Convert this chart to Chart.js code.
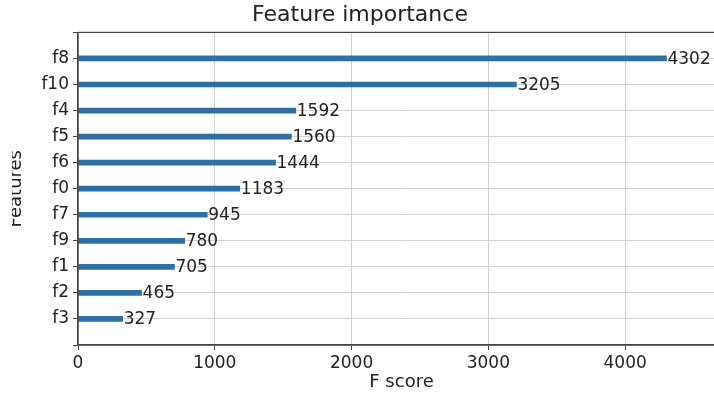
<!DOCTYPE html>
<html>
<head>
<meta charset="utf-8">
<script src="https://cdn.jsdelivr.net/npm/chart.js@4"></script>
<style>
  html, body { margin: 0; padding: 0; background: #fff; }
  #wrap { position: relative; width: 714px; height: 393px; overflow: hidden; background: #fff; }
  /* the source picture is cropped a little on the left */
  #clip { position: absolute; left: 12px; top: 0; width: 702px; height: 393px; overflow: hidden; }
  #importanceChart { position: absolute; left: -17px; top: 0; }
</style>
</head>
<body>
<div id="wrap">
  <div id="clip">
    <canvas id="importanceChart" width="730" height="393"></canvas>
  </div>
</div>
<script>
// feature names, top to bottom
const features = ['f8', 'f10', 'f4', 'f5', 'f6', 'f0', 'f7', 'f9', 'f1', 'f2', 'f3'];
// F score per feature
const scores = [4302, 3205, 1592, 1560, 1444, 1183, 945, 780, 705, 465, 327];
// x axis ticks
const xTicks = [0, 1000, 2000, 3000, 4000];
const xMax = 4730;

const barColor = '#2f6fa5';
const textColor = '#222';

// blank slot above and below, like matplotlib's ylim(-1, n)
const labels = [''].concat(features, ['']);
const values = [null].concat(scores, [null]);

Chart.defaults.font.family = "'DejaVu Sans', sans-serif";
Chart.defaults.color = textColor;

// write the score next to each bar end
const valueLabels = {
    id: 'valueLabels',
    afterDatasetsDraw(chart) {
        const ctx = chart.ctx;
        const meta = chart.getDatasetMeta(0);
        ctx.save();
        ctx.font = "17px 'DejaVu Sans'";
        ctx.fillStyle = textColor;
        ctx.textAlign = 'left';
        ctx.textBaseline = 'middle';
        meta.data.forEach(function(bar, i) {
            if (values[i] === null) return;
            ctx.fillText(String(values[i]), bar.x + 1, bar.y + 1);
        });
        ctx.restore();
    }
};

// full box round the plot, matplotlib style
const frame = {
    id: 'frame',
    afterDraw(chart) {
        const a = chart.chartArea;
        const ctx = chart.ctx;
        ctx.save();
        ctx.strokeStyle = '#444';
        ctx.lineWidth = 1.2;
        ctx.strokeRect(a.left, a.top, a.right - a.left, a.bottom - a.top);
        ctx.restore();
    }
};

const ctx = document.getElementById('importanceChart').getContext('2d');
new Chart(ctx, {
    type: 'bar',
    data: {
        labels: labels,
        datasets: [{
            data: values,
            backgroundColor: barColor,
            barThickness: 5
        }]
    },
    options: {
        indexAxis: 'y',
        responsive: false,
        animation: false,
        devicePixelRatio: 1,
        layout: { padding: 0 },
        plugins: {
            legend: { display: false },
            tooltip: { enabled: false },
            title: {
                display: true,
                text: 'Feature importance',
                font: { size: 22, weight: 'normal' },
                color: textColor,
                padding: { top: 2, bottom: 4 }
            }
        },
        scales: {
            x: {
                min: 0,
                max: xMax,
                afterBuildTicks: function(scale) {
                    scale.ticks = xTicks.map(function(v) { return { value: v }; });
                },
                afterFit: function(scale) { scale.height = 48; },
                grid: { color: '#d2d2d2', tickColor: '#444', tickLength: 5 },
                border: { color: '#444', width: 1.2 },
                ticks: {
                    font: { size: 17 },
                    padding: 3,
                    maxRotation: 0,
                    callback: function(v) { return String(v); }
                },
                title: {
                    display: true,
                    text: 'F score',
                    font: { size: 18 },
                    padding: { top: 0, bottom: 0 }
                }
            },
            y: {
                offset: false,
                afterFit: function(scale) { scale.width = 83; },
                grid: { offset: false, color: '#d2d2d2', tickColor: '#444', tickLength: 5 },
                border: { color: '#444', width: 1.2 },
                ticks: { font: { size: 17 }, padding: 4, autoSkip: false },
                title: {
                    display: true,
                    text: 'Features',
                    font: { size: 18 },
                    padding: { top: 11, bottom: 0 }
                }
            }
        }
    },
    plugins: [valueLabels, frame]
});
</script>
</body>
</html>
